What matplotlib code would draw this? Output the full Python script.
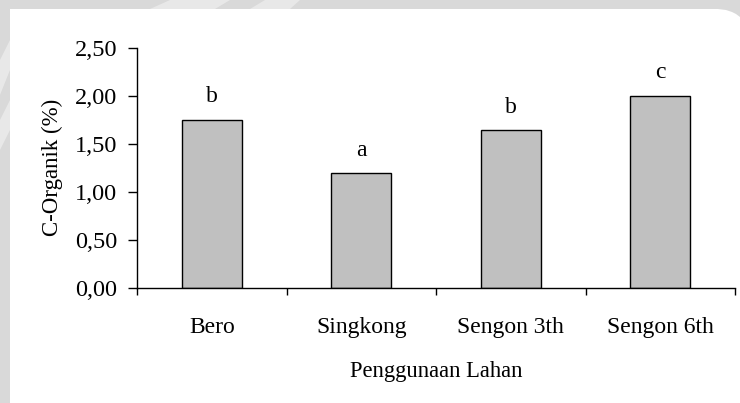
import matplotlib
matplotlib.use("Agg")
import matplotlib.pyplot as plt
from matplotlib.patches import Rectangle, Polygon

# Soil organic carbon by land use
categories = ["Bero", "Singkong", "Sengon 3th", "Sengon 6th"]
c_organik = [1.75, 1.19, 1.64, 2.00]
letters = ["b", "a", "b", "c"]
y_ticks = [0.0, 0.5, 1.0, 1.5, 2.0, 2.5]
y_tick_labels = ["0,00", "0,50", "1,00", "1,50", "2,00", "2,50"]

plt.rcParams["font.family"] = ["Liberation Serif", "DejaVu Serif"]

W, H = 740, 403
fig = plt.figure(figsize=(W / 100, H / 100), dpi=100)
fig.patch.set_facecolor("#d9d9d9")


def fig_pts(pts):
    return [(x / W, 1 - y / H) for x, y in pts]


# white page inside a grey margin
page = Rectangle((10 / W, 0), (W - 10) / W, (H - 9) / H,
                 transform=fig.transFigure, facecolor="white",
                 edgecolor="none", zorder=-3)
fig.patches.append(page)
corner = Polygon(fig_pts([(718, 9), (726, 10), (732, 12), (736, 14), (740, 17), (740, 9)]),
                 closed=True, transform=fig.transFigure, facecolor="#d9d9d9",
                 edgecolor="none", zorder=-2)
fig.patches.append(corner)

# faint light streaks in the grey margin
for pts in [
    [(0, 60), (10, 40), (10, 70), (0, 95)],
    [(0, 120), (10, 100), (10, 130), (0, 150)],
    [(150, 9), (170, 0), (230, 0), (215, 9)],
    [(250, 9), (265, 0), (300, 0), (290, 9)],
]:
    poly = Polygon(fig_pts(pts), closed=True, transform=fig.transFigure,
                   facecolor="#e8e8e8", edgecolor="none", zorder=-2)
    fig.patches.append(poly)

x0, x1 = 137, 735
y_top, y_bot = 47.7, 287.7
ax = fig.add_axes([x0 / W, 1 - y_bot / H, (x1 - x0) / W, (y_bot - y_top) / H])
ax.set_facecolor("none")
ax.set_zorder(1)

pos = list(range(len(categories)))
ax.bar(pos, c_organik, width=0.40, color="#c0c0c0", edgecolor="black",
       linewidth=1.0, zorder=2)

for p, v, t in zip(pos, c_organik, letters):
    ax.text(p, v + 0.13, t, ha="center", va="bottom", fontsize=17)

ax.set_xlim(-0.5, len(categories) - 0.5)
ax.set_ylim(0, 2.5)
ax.set_yticks(y_ticks, y_tick_labels)
ax.set_xticks([b - 0.5 for b in range(len(categories) + 1)], [""] * (len(categories) + 1))
ax.set_xticks(pos, categories, minor=True)
ax.tick_params(axis="x", which="minor", length=0, pad=21, labelsize=17)
ax.tick_params(axis="x", which="major", length=5, width=1.0, direction="out")
ax.tick_params(axis="y", length=6.3, width=1.0, direction="out", labelsize=17.5, pad=8)

for s in ["top", "right"]:
    ax.spines[s].set_visible(False)
for s in ["left", "bottom"]:
    ax.spines[s].set_linewidth(1.0)

ax.set_ylabel("C-Organik (%)", fontsize=16.5, labelpad=8.5)
ax.set_xlabel("Penggunaan Lahan", fontsize=16.3, labelpad=17)

fig.savefig("out.png", dpi=100, facecolor=fig.get_facecolor())
